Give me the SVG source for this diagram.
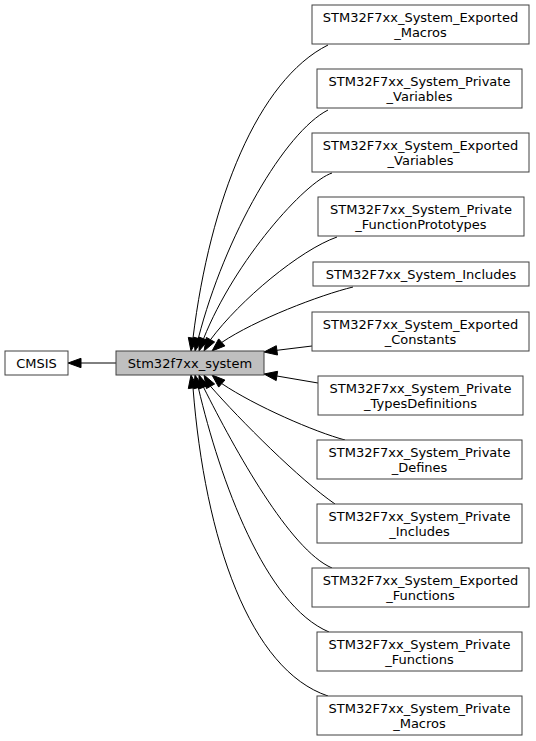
<svg xmlns="http://www.w3.org/2000/svg" width="536" height="741" viewBox="0 0 536 741">
<style>
.box{fill:#ffffff;stroke:#404040;stroke-width:1}
.cur{fill:#bfbfbf;stroke:#404040;stroke-width:1}
text{font-family:"DejaVu Sans","Liberation Sans",sans-serif;font-size:13px;fill:#000;text-anchor:middle}
.e path{fill:none;stroke:#000;stroke-width:1}
.e polygon{fill:#000;stroke:#000;stroke-width:1}
</style>
<rect x="0" y="0" width="536" height="741" fill="#ffffff"/>
<g class="e" id="edges">
<path d="M116,363 L81,363"/><polygon points="68,363 81,358.3 81,367.7"/>
<path d="M328,45 C258,80 210,200 193,338"/><polygon points="191,351 197.6,338.8 188.3,337.4"/>
<path d="M328,110 C285,132 225,235 198.3,338.4"/><polygon points="195,351 202.8,339.6 193.7,337.2"/>
<path d="M332,173 C305,182 235,260 203.5,338.8"/><polygon points="199,351 207.9,340.4 199.1,337.1"/>
<path d="M337,237 C300,250 240,300 210.5,339.7"/><polygon points="204,351 214.6,342 206.4,337.4"/>
<path d="M353,287 C320,295 255,320 221.8,342.4"/><polygon points="212,351 224.9,345.9 218.7,338.9"/>
<path d="M312,346 L276.9,350.3"/><polygon points="264,352 277.5,355 276.3,345.7"/>
<path d="M318,383 L276.9,376"/><polygon points="264,374 277.6,371.3 276.2,380.6"/>
<path d="M345,440 C315,432 255,406 221.8,383.6"/><polygon points="212,375 224.9,380.1 218.7,387.1"/>
<path d="M335,504 C300,480 240,420 210.5,386.3"/><polygon points="204,375 214.6,384 206.4,388.6"/>
<path d="M332,568 C290,550 235,450 203.5,387.2"/><polygon points="199,375 207.9,385.6 199.1,388.9"/>
<path d="M329,632 C265,605 220,480 198.3,387.6"/><polygon points="195,375 202.8,386.4 193.7,388.8"/>
<path d="M328,696 C250,670 205,540 193,387.9"/><polygon points="191,375 197.6,387.2 188.3,388.6"/>
</g>
<g id="node_cmsis"><rect class="box" x="5" y="351" width="63" height="24"/><text x="36.5" y="367.7">CMSIS</text></g>
<g id="node_system"><rect class="cur" x="116" y="351" width="148" height="24"/><text x="190" y="367.7">Stm32f7xx_system</text></g>
<g id="node_exp_macros"><rect class="box" x="312" y="5" width="217" height="39"/><text x="420.5" y="22">STM32F7xx_System_Exported</text><text x="420.5" y="36.5">_Macros</text></g>
<g id="node_priv_vars"><rect class="box" x="317" y="69" width="205" height="39"/><text x="419.5" y="86">STM32F7xx_System_Private</text><text x="419.5" y="100.5">_Variables</text></g>
<g id="node_exp_vars"><rect class="box" x="312" y="133" width="217" height="39"/><text x="420.5" y="150">STM32F7xx_System_Exported</text><text x="420.5" y="164.5">_Variables</text></g>
<g id="node_priv_proto"><rect class="box" x="318" y="197" width="206" height="39"/><text x="421" y="214">STM32F7xx_System_Private</text><text x="421" y="228.5">_FunctionPrototypes</text></g>
<g id="node_includes"><rect class="box" x="313" y="262" width="216" height="24"/><text x="421" y="278.5">STM32F7xx_System_Includes</text></g>
<g id="node_exp_const"><rect class="box" x="312" y="312" width="217" height="39"/><text x="420.5" y="329">STM32F7xx_System_Exported</text><text x="420.5" y="343.5">_Constants</text></g>
<g id="node_priv_types"><rect class="box" x="318" y="376" width="205" height="39"/><text x="420.5" y="393">STM32F7xx_System_Private</text><text x="420.5" y="407.5">_TypesDefinitions</text></g>
<g id="node_priv_defines"><rect class="box" x="317" y="440" width="205" height="39"/><text x="419.5" y="457">STM32F7xx_System_Private</text><text x="419.5" y="471.5">_Defines</text></g>
<g id="node_priv_includes"><rect class="box" x="317" y="504" width="205" height="39"/><text x="419.5" y="521">STM32F7xx_System_Private</text><text x="419.5" y="535.5">_Includes</text></g>
<g id="node_exp_funcs"><rect class="box" x="312" y="568" width="217" height="39"/><text x="420.5" y="585">STM32F7xx_System_Exported</text><text x="420.5" y="599.5">_Functions</text></g>
<g id="node_priv_funcs"><rect class="box" x="317" y="632" width="205" height="39"/><text x="419.5" y="649">STM32F7xx_System_Private</text><text x="419.5" y="663.5">_Functions</text></g>
<g id="node_priv_macros"><rect class="box" x="317" y="696" width="205" height="39"/><text x="419.5" y="713">STM32F7xx_System_Private</text><text x="419.5" y="727.5">_Macros</text></g>
</svg>
